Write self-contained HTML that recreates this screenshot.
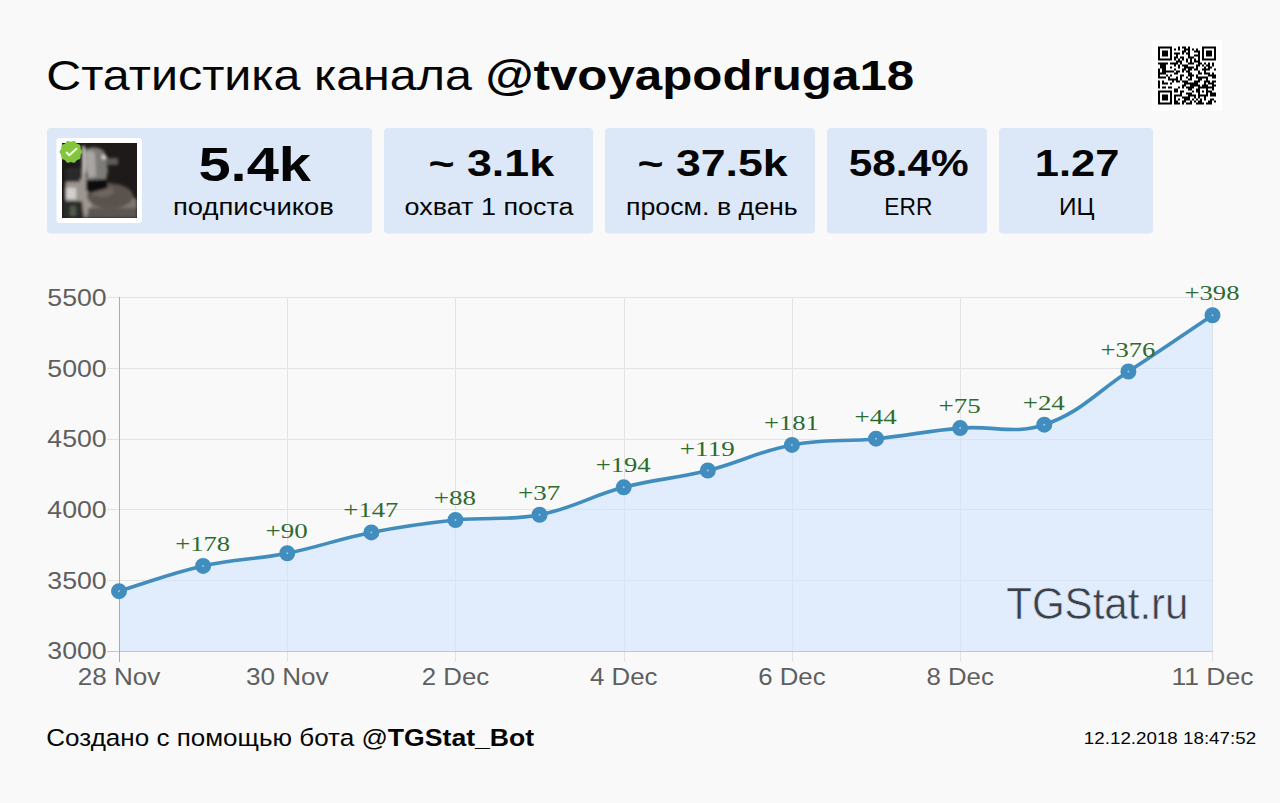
<!DOCTYPE html>
<html><head><meta charset="utf-8"><style>html,body{margin:0;padding:0;background:#f9f9f9;width:1280px;height:803px;overflow:hidden}svg{display:block}</style></head>
<body><svg width="1280" height="803" viewBox="0 0 1280 803">
<rect x="0" y="0" width="1280" height="803" fill="#f9f9f9"/>
<rect x="47" y="128" width="325" height="105.5" rx="4" fill="#dce8f7"/>
<rect x="384" y="128" width="209" height="105.5" rx="4" fill="#dce8f7"/>
<rect x="605" y="128" width="210" height="105.5" rx="4" fill="#dce8f7"/>
<rect x="827" y="128" width="160" height="105.5" rx="4" fill="#dce8f7"/>
<rect x="999" y="128" width="154" height="105.5" rx="4" fill="#dce8f7"/>
<text x="46.29" y="90.20" font-family="'Liberation Sans', sans-serif" font-size="41.921" fill="#050505" text-anchor="start"><tspan id="title_0" font-weight="400" textLength="439.13" lengthAdjust="spacingAndGlyphs">Статистика канала </tspan><tspan id="title_1" font-weight="700" textLength="428.82" lengthAdjust="spacingAndGlyphs">@tvoyapodruga18</tspan></text>

<text x="198.44" y="181.00" font-family="'Liberation Sans', sans-serif" font-size="47.542" fill="#050505" text-anchor="start"><tspan id="v1_0" font-weight="700" textLength="112.56" lengthAdjust="spacingAndGlyphs">5.4k</tspan></text>

<text x="172.96" y="215.30" font-family="'Liberation Sans', sans-serif" font-size="24.036" fill="#050505" text-anchor="start"><tspan id="l1_0" font-weight="400" textLength="160.92" lengthAdjust="spacingAndGlyphs">подписчиков</tspan></text>

<text x="428.48" y="176.00" font-family="'Liberation Sans', sans-serif" font-size="37.277" fill="#050505" text-anchor="start"><tspan id="v2_0" font-weight="700" textLength="125.58" lengthAdjust="spacingAndGlyphs">~ 3.1k</tspan></text>

<text x="404.51" y="215.30" font-family="'Liberation Sans', sans-serif" font-size="24.027" fill="#050505" text-anchor="start"><tspan id="l2_0" font-weight="400" textLength="168.99" lengthAdjust="spacingAndGlyphs">охват 1 поста</tspan></text>

<text x="637.46" y="176.00" font-family="'Liberation Sans', sans-serif" font-size="36.550" fill="#050505" text-anchor="start"><tspan id="v3_0" font-weight="700" textLength="150.20" lengthAdjust="spacingAndGlyphs">~ 37.5k</tspan></text>

<text x="625.97" y="215.30" font-family="'Liberation Sans', sans-serif" font-size="24.157" fill="#050505" text-anchor="start"><tspan id="l3_0" font-weight="400" textLength="171.82" lengthAdjust="spacingAndGlyphs">просм. в день</tspan></text>

<text x="848.71" y="176.20" font-family="'Liberation Sans', sans-serif" font-size="36.443" fill="#050505" text-anchor="start"><tspan id="v4_0" font-weight="700" textLength="120.06" lengthAdjust="spacingAndGlyphs">58.4%</tspan></text>

<text x="884.33" y="215.30" font-family="'Liberation Sans', sans-serif" font-size="24.542" fill="#050505" text-anchor="start"><tspan id="l4_0" font-weight="400" textLength="48.03" lengthAdjust="spacingAndGlyphs">ERR</tspan></text>

<text x="1034.73" y="176.00" font-family="'Liberation Sans', sans-serif" font-size="36.462" fill="#050505" text-anchor="start"><tspan id="v5_0" font-weight="700" textLength="84.60" lengthAdjust="spacingAndGlyphs">1.27</tspan></text>

<text x="1058.91" y="215.30" font-family="'Liberation Sans', sans-serif" font-size="24.701" fill="#050505" text-anchor="start"><tspan id="l5_0" font-weight="400" textLength="35.49" lengthAdjust="spacingAndGlyphs">ИЦ</tspan></text>

<text x="46.32" y="745.70" font-family="'Liberation Sans', sans-serif" font-size="23.766" fill="#050505" text-anchor="start"><tspan id="footer_0" font-weight="400" textLength="341.55" lengthAdjust="spacingAndGlyphs">Создано с помощью бота @</tspan><tspan id="footer_1" font-weight="700" textLength="146.33" lengthAdjust="spacingAndGlyphs">TGStat_Bot</tspan></text>

<text x="1083.89" y="743.75" font-family="'Liberation Sans', sans-serif" font-size="17.141" fill="#050505" text-anchor="start"><tspan id="ts_0" font-weight="400" textLength="172.21" lengthAdjust="spacingAndGlyphs">12.12.2018 18:47:52</tspan></text>

<rect x="56.5" y="138" width="85.5" height="85" rx="3" fill="#fff"/>
<defs><clipPath id="av"><rect x="62" y="143" width="75" height="75"/></clipPath>
<filter id="bl" x="-20%" y="-20%" width="140%" height="140%"><feGaussianBlur stdDeviation="1.6"/></filter>
<filter id="bl2" x="-20%" y="-20%" width="140%" height="140%"><feGaussianBlur stdDeviation="0.8"/></filter></defs>
<g clip-path="url(#av)">
<rect x="62" y="143" width="75" height="75" fill="#1e1a19"/>
<g filter="url(#bl)">
<path d="M62,183 L86,177 L120,186 L137,200 L137,218 L62,218 Z" fill="#7d7671"/>
<path d="M66,182 L86,178 L92,206 L84,218 L66,218 Z" fill="#9d9690"/>
<rect x="64" y="188" width="12" height="11" fill="#d2d0ce"/>
<path d="M84,150 Q94,144 104,151 L108,170 L106,180 L88,181 L84,168 Z" fill="#7e7b78"/>
<path d="M86,152 Q91,149 95,153 L96,176 L89,178 L86,166 Z" fill="#a9a6a3"/>
<rect x="82" y="146" width="3" height="32" fill="#c8c6c4"/>
<ellipse cx="104" cy="157" rx="2.5" ry="2.5" fill="#d9d6d3"/>
<path d="M106,158 L118,158 L118,165 L106,165 Z" fill="#5f5b57"/>
<ellipse cx="110" cy="196" rx="23" ry="12.5" fill="#5a524d"/>
<ellipse cx="102" cy="191" rx="12" ry="6" fill="#6e655f"/>
<path d="M86,180 L107,179 L108,188 L90,193 L86,190 Z" fill="#100e0f"/>
<rect x="62" y="165" width="4" height="53" fill="#141213"/>
<rect x="66" y="168" width="14" height="14" fill="#2a292a"/>
<path d="M63,201 L82,201 L84,218 L63,218 Z" fill="#2b2927"/>
<rect x="70" y="206" width="6" height="10" fill="#505a4c"/>
<path d="M88,208 L137,208 L137,218 L88,218 Z" fill="#5c5652"/>
</g>
</g>
</g>
<g transform="translate(70.9,151.9)">
<path d="M11.40,0.00 L11.19,0.88 L10.67,1.69 L10.09,2.42 L9.70,3.15 L9.59,3.97 L9.62,4.90 L9.57,5.86 L9.22,6.70 L8.53,7.29 L7.64,7.64 L6.74,7.89 L6.00,8.25 L5.42,8.85 L4.90,9.62 L4.30,10.37 L3.52,10.84 L2.62,10.91 L1.69,10.67 L0.81,10.34 L0.00,10.20 L-0.81,10.34 L-1.69,10.67 L-2.62,10.91 L-3.52,10.84 L-4.30,10.37 L-4.90,9.62 L-5.42,8.85 L-6.00,8.25 L-6.74,7.89 L-7.64,7.64 L-8.53,7.29 L-9.22,6.70 L-9.57,5.86 L-9.62,4.90 L-9.59,3.97 L-9.70,3.15 L-10.09,2.42 L-10.67,1.69 L-11.19,0.88 L-11.40,0.00 L-11.19,-0.88 L-10.67,-1.69 L-10.09,-2.42 L-9.70,-3.15 L-9.59,-3.97 L-9.62,-4.90 L-9.57,-5.86 L-9.22,-6.70 L-8.53,-7.29 L-7.64,-7.64 L-6.74,-7.89 L-6.00,-8.25 L-5.42,-8.85 L-4.90,-9.62 L-4.30,-10.37 L-3.52,-10.84 L-2.62,-10.91 L-1.69,-10.67 L-0.81,-10.34 L-0.00,-10.20 L0.81,-10.34 L1.69,-10.67 L2.62,-10.91 L3.52,-10.84 L4.30,-10.37 L4.90,-9.62 L5.42,-8.85 L6.00,-8.25 L6.74,-7.89 L7.64,-7.64 L8.53,-7.29 L9.22,-6.70 L9.57,-5.86 L9.62,-4.90 L9.59,-3.97 L9.70,-3.15 L10.09,-2.42 L10.67,-1.69 L11.19,-0.88 Z" fill="#84c540"/>
<path d="M-4.2,0.6 L-1.6,3.4 L5.6,-3.2" fill="none" stroke="#f2fbe8" stroke-width="2" stroke-linecap="round" stroke-linejoin="round"/>
</g>
<rect x="1152" y="40" width="70" height="71" fill="#fefefe"/>
<path d="M1158,46.4h14v2h-14zM1178,46.4h2v2h-2zM1182,46.4h4v2h-4zM1188,46.4h2v2h-2zM1202,46.4h14v2h-14zM1158,48.4h2v2h-2zM1170,48.4h2v2h-2zM1174,48.4h2v2h-2zM1178,48.4h2v2h-2zM1184,48.4h6v2h-6zM1192,48.4h2v2h-2zM1196,48.4h2v2h-2zM1202,48.4h2v2h-2zM1214,48.4h2v2h-2zM1158,50.4h2v2h-2zM1162,50.4h6v2h-6zM1170,50.4h2v2h-2zM1182,50.4h4v2h-4zM1188,50.4h2v2h-2zM1194,50.4h6v2h-6zM1202,50.4h2v2h-2zM1206,50.4h6v2h-6zM1214,50.4h2v2h-2zM1158,52.4h2v2h-2zM1162,52.4h6v2h-6zM1170,52.4h2v2h-2zM1174,52.4h6v2h-6zM1182,52.4h2v2h-2zM1186,52.4h4v2h-4zM1198,52.4h2v2h-2zM1202,52.4h2v2h-2zM1206,52.4h6v2h-6zM1214,52.4h2v2h-2zM1158,54.4h2v2h-2zM1162,54.4h6v2h-6zM1170,54.4h2v2h-2zM1176,54.4h2v2h-2zM1188,54.4h2v2h-2zM1194,54.4h6v2h-6zM1202,54.4h2v2h-2zM1206,54.4h6v2h-6zM1214,54.4h2v2h-2zM1158,56.4h2v2h-2zM1170,56.4h2v2h-2zM1174,56.4h4v2h-4zM1180,56.4h4v2h-4zM1188,56.4h6v2h-6zM1198,56.4h2v2h-2zM1202,56.4h2v2h-2zM1214,56.4h2v2h-2zM1158,58.4h14v2h-14zM1174,58.4h2v2h-2zM1178,58.4h2v2h-2zM1182,58.4h2v2h-2zM1186,58.4h2v2h-2zM1190,58.4h2v2h-2zM1194,58.4h2v2h-2zM1198,58.4h2v2h-2zM1202,58.4h14v2h-14zM1176,60.4h6v2h-6zM1186,60.4h2v2h-2zM1190,60.4h2v2h-2zM1194,60.4h6v2h-6zM1158,62.4h10v2h-10zM1170,62.4h8v2h-8zM1180,62.4h2v2h-2zM1188,62.4h6v2h-6zM1198,62.4h4v2h-4zM1204,62.4h2v2h-2zM1208,62.4h2v2h-2zM1212,62.4h2v2h-2zM1160,64.4h6v2h-6zM1174,64.4h2v2h-2zM1178,64.4h2v2h-2zM1182,64.4h6v2h-6zM1196,64.4h4v2h-4zM1202,64.4h2v2h-2zM1206,64.4h4v2h-4zM1212,64.4h2v2h-2zM1160,66.4h6v2h-6zM1170,66.4h2v2h-2zM1178,66.4h2v2h-2zM1184,66.4h10v2h-10zM1196,66.4h2v2h-2zM1204,66.4h2v2h-2zM1208,66.4h4v2h-4zM1158,68.4h2v2h-2zM1162,68.4h4v2h-4zM1174,68.4h2v2h-2zM1182,68.4h4v2h-4zM1188,68.4h4v2h-4zM1194,68.4h4v2h-4zM1202,68.4h8v2h-8zM1214,68.4h2v2h-2zM1158,70.4h2v2h-2zM1162,70.4h12v2h-12zM1176,70.4h4v2h-4zM1182,70.4h2v2h-2zM1186,70.4h4v2h-4zM1198,70.4h2v2h-2zM1204,70.4h2v2h-2zM1158,72.4h8v2h-8zM1174,72.4h4v2h-4zM1188,72.4h4v2h-4zM1198,72.4h4v2h-4zM1204,72.4h6v2h-6zM1212,72.4h2v2h-2zM1158,74.4h2v2h-2zM1166,74.4h2v2h-2zM1170,74.4h2v2h-2zM1180,74.4h4v2h-4zM1188,74.4h6v2h-6zM1196,74.4h2v2h-2zM1208,74.4h8v2h-8zM1158,76.4h8v2h-8zM1168,76.4h2v2h-2zM1176,76.4h2v2h-2zM1180,76.4h2v2h-2zM1186,76.4h2v2h-2zM1190,76.4h2v2h-2zM1196,76.4h12v2h-12zM1212,76.4h4v2h-4zM1168,78.4h10v2h-10zM1180,78.4h2v2h-2zM1188,78.4h4v2h-4zM1198,78.4h4v2h-4zM1206,78.4h2v2h-2zM1158,80.4h2v2h-2zM1162,80.4h2v2h-2zM1172,80.4h2v2h-2zM1176,80.4h4v2h-4zM1182,80.4h6v2h-6zM1194,80.4h6v2h-6zM1204,80.4h6v2h-6zM1212,80.4h4v2h-4zM1158,82.4h2v2h-2zM1162,82.4h6v2h-6zM1170,82.4h2v2h-2zM1184,82.4h14v2h-14zM1204,82.4h2v2h-2zM1208,82.4h6v2h-6zM1158,84.4h2v2h-2zM1182,84.4h4v2h-4zM1190,84.4h10v2h-10zM1202,84.4h6v2h-6zM1212,84.4h4v2h-4zM1158,86.4h2v2h-2zM1162,86.4h4v2h-4zM1168,86.4h4v2h-4zM1178,86.4h2v2h-2zM1182,86.4h2v2h-2zM1186,86.4h8v2h-8zM1198,86.4h16v2h-16zM1174,88.4h4v2h-4zM1188,88.4h4v2h-4zM1196,88.4h4v2h-4zM1206,88.4h2v2h-2zM1212,88.4h2v2h-2zM1158,90.4h14v2h-14zM1174,90.4h4v2h-4zM1180,90.4h4v2h-4zM1192,90.4h2v2h-2zM1196,90.4h4v2h-4zM1202,90.4h2v2h-2zM1206,90.4h6v2h-6zM1158,92.4h2v2h-2zM1170,92.4h2v2h-2zM1180,92.4h2v2h-2zM1186,92.4h6v2h-6zM1198,92.4h2v2h-2zM1206,92.4h2v2h-2zM1210,92.4h6v2h-6zM1158,94.4h2v2h-2zM1162,94.4h6v2h-6zM1170,94.4h2v2h-2zM1174,94.4h8v2h-8zM1188,94.4h8v2h-8zM1198,94.4h10v2h-10zM1210,94.4h6v2h-6zM1158,96.4h2v2h-2zM1162,96.4h6v2h-6zM1170,96.4h2v2h-2zM1174,96.4h2v2h-2zM1182,96.4h8v2h-8zM1194,96.4h2v2h-2zM1198,96.4h2v2h-2zM1204,96.4h2v2h-2zM1158,98.4h2v2h-2zM1162,98.4h6v2h-6zM1170,98.4h2v2h-2zM1174,98.4h2v2h-2zM1178,98.4h2v2h-2zM1184,98.4h6v2h-6zM1192,98.4h2v2h-2zM1196,98.4h2v2h-2zM1200,98.4h2v2h-2zM1204,98.4h2v2h-2zM1210,98.4h4v2h-4zM1158,100.4h2v2h-2zM1170,100.4h2v2h-2zM1174,100.4h4v2h-4zM1182,100.4h4v2h-4zM1190,100.4h2v2h-2zM1194,100.4h2v2h-2zM1198,100.4h4v2h-4zM1208,100.4h4v2h-4zM1214,100.4h2v2h-2zM1158,102.4h14v2h-14zM1174,102.4h6v2h-6zM1182,102.4h2v2h-2zM1186,102.4h6v2h-6zM1196,102.4h8v2h-8zM1206,102.4h6v2h-6z" fill="#000"/>
<line x1="107" y1="580.50" x2="1213" y2="580.50" stroke="#e3e3e3" stroke-width="1"/>
<line x1="107" y1="509.50" x2="1213" y2="509.50" stroke="#e3e3e3" stroke-width="1"/>
<line x1="107" y1="439.50" x2="1213" y2="439.50" stroke="#e3e3e3" stroke-width="1"/>
<line x1="107" y1="368.50" x2="1213" y2="368.50" stroke="#e3e3e3" stroke-width="1"/>
<line x1="107" y1="297.50" x2="1213" y2="297.50" stroke="#e3e3e3" stroke-width="1"/>
<line x1="287.50" y1="297" x2="287.50" y2="662" stroke="#e3e3e3" stroke-width="1"/>
<line x1="455.50" y1="297" x2="455.50" y2="662" stroke="#e3e3e3" stroke-width="1"/>
<line x1="624.50" y1="297" x2="624.50" y2="662" stroke="#e3e3e3" stroke-width="1"/>
<line x1="792.50" y1="297" x2="792.50" y2="662" stroke="#e3e3e3" stroke-width="1"/>
<line x1="960.50" y1="297" x2="960.50" y2="662" stroke="#e3e3e3" stroke-width="1"/>
<line x1="1212.50" y1="297" x2="1212.50" y2="662" stroke="#e3e3e3" stroke-width="1"/>
<path d="M119.00,591.13 C152.65,581.06 168.94,573.66 203.12,565.96 C236.23,558.50 253.89,559.87 287.23,553.23 C321.19,546.47 337.38,539.16 371.35,532.45 C404.68,525.86 421.67,523.56 455.46,520.00 C488.96,516.49 506.75,521.15 539.58,514.77 C574.04,508.08 589.53,496.33 623.69,487.34 C656.82,478.63 674.58,478.89 707.81,470.51 C741.87,461.93 757.58,451.42 791.92,444.92 C824.87,438.69 842.48,442.06 876.04,438.70 C909.77,435.33 926.39,430.90 960.15,428.10 C993.68,425.31 1013.43,435.07 1044.27,424.70 C1080.72,412.45 1095.02,393.24 1128.38,371.53 C1162.32,349.46 1178.85,337.77 1212.50,315.26 L1212.50,651.00 L119.00,651.00 Z" fill="rgba(205,225,255,0.55)"/>
<line x1="107" y1="651.5" x2="1213" y2="651.5" stroke="#c3c6ca" stroke-width="1"/>
<line x1="119.5" y1="297" x2="119.5" y2="662" stroke="#a9abad" stroke-width="1"/>
<path d="M119.00,591.13 C152.65,581.06 168.94,573.66 203.12,565.96 C236.23,558.50 253.89,559.87 287.23,553.23 C321.19,546.47 337.38,539.16 371.35,532.45 C404.68,525.86 421.67,523.56 455.46,520.00 C488.96,516.49 506.75,521.15 539.58,514.77 C574.04,508.08 589.53,496.33 623.69,487.34 C656.82,478.63 674.58,478.89 707.81,470.51 C741.87,461.93 757.58,451.42 791.92,444.92 C824.87,438.69 842.48,442.06 876.04,438.70 C909.77,435.33 926.39,430.90 960.15,428.10 C993.68,425.31 1013.43,435.07 1044.27,424.70 C1080.72,412.45 1095.02,393.24 1128.38,371.53 C1162.32,349.46 1178.85,337.77 1212.50,315.26" fill="none" stroke="#408dbe" stroke-width="3.6"/>
<circle cx="119.00" cy="591.13" r="4.5" fill="#9cc8f0" stroke="#408dbe" stroke-width="7"/>
<circle cx="203.12" cy="565.96" r="4.5" fill="#9cc8f0" stroke="#408dbe" stroke-width="7"/>
<circle cx="287.23" cy="553.23" r="4.5" fill="#9cc8f0" stroke="#408dbe" stroke-width="7"/>
<circle cx="371.35" cy="532.45" r="4.5" fill="#9cc8f0" stroke="#408dbe" stroke-width="7"/>
<circle cx="455.46" cy="520.00" r="4.5" fill="#9cc8f0" stroke="#408dbe" stroke-width="7"/>
<circle cx="539.58" cy="514.77" r="4.5" fill="#9cc8f0" stroke="#408dbe" stroke-width="7"/>
<circle cx="623.69" cy="487.34" r="4.5" fill="#9cc8f0" stroke="#408dbe" stroke-width="7"/>
<circle cx="707.81" cy="470.51" r="4.5" fill="#9cc8f0" stroke="#408dbe" stroke-width="7"/>
<circle cx="791.92" cy="444.92" r="4.5" fill="#9cc8f0" stroke="#408dbe" stroke-width="7"/>
<circle cx="876.04" cy="438.70" r="4.5" fill="#9cc8f0" stroke="#408dbe" stroke-width="7"/>
<circle cx="960.15" cy="428.10" r="4.5" fill="#9cc8f0" stroke="#408dbe" stroke-width="7"/>
<circle cx="1044.27" cy="424.70" r="4.5" fill="#9cc8f0" stroke="#408dbe" stroke-width="7"/>
<circle cx="1128.38" cy="371.53" r="4.5" fill="#9cc8f0" stroke="#408dbe" stroke-width="7"/>
<circle cx="1212.50" cy="315.26" r="4.5" fill="#9cc8f0" stroke="#408dbe" stroke-width="7"/>
<text x="106.70" y="659.30" font-family="'Liberation Sans', sans-serif" font-size="23.563" fill="#5f5f5f" text-anchor="end"><tspan id="y3000_0" font-weight="400" textLength="59.38" lengthAdjust="spacingAndGlyphs">3000</tspan></text>

<text x="106.70" y="588.60" font-family="'Liberation Sans', sans-serif" font-size="23.563" fill="#5f5f5f" text-anchor="end"><tspan id="y3500_0" font-weight="400" textLength="59.38" lengthAdjust="spacingAndGlyphs">3500</tspan></text>

<text x="106.70" y="517.90" font-family="'Liberation Sans', sans-serif" font-size="23.563" fill="#5f5f5f" text-anchor="end"><tspan id="y4000_0" font-weight="400" textLength="59.38" lengthAdjust="spacingAndGlyphs">4000</tspan></text>

<text x="106.70" y="447.20" font-family="'Liberation Sans', sans-serif" font-size="23.563" fill="#5f5f5f" text-anchor="end"><tspan id="y4500_0" font-weight="400" textLength="59.38" lengthAdjust="spacingAndGlyphs">4500</tspan></text>

<text x="106.70" y="376.50" font-family="'Liberation Sans', sans-serif" font-size="23.563" fill="#5f5f5f" text-anchor="end"><tspan id="y5000_0" font-weight="400" textLength="59.38" lengthAdjust="spacingAndGlyphs">5000</tspan></text>

<text x="106.70" y="305.80" font-family="'Liberation Sans', sans-serif" font-size="23.563" fill="#5f5f5f" text-anchor="end"><tspan id="y5500_0" font-weight="400" textLength="59.38" lengthAdjust="spacingAndGlyphs">5500</tspan></text>

<text x="119.00" y="684.50" font-family="'Liberation Sans', sans-serif" font-size="23.797" fill="#5f5f5f" text-anchor="middle"><tspan id="x0_0" font-weight="400" textLength="82.64" lengthAdjust="spacingAndGlyphs">28 Nov</tspan></text>

<text x="287.23" y="684.50" font-family="'Liberation Sans', sans-serif" font-size="23.797" fill="#5f5f5f" text-anchor="middle"><tspan id="x2_0" font-weight="400" textLength="82.64" lengthAdjust="spacingAndGlyphs">30 Nov</tspan></text>

<text x="455.46" y="684.50" font-family="'Liberation Sans', sans-serif" font-size="23.797" fill="#5f5f5f" text-anchor="middle"><tspan id="x4_0" font-weight="400" textLength="67.41" lengthAdjust="spacingAndGlyphs">2 Dec</tspan></text>

<text x="623.69" y="684.50" font-family="'Liberation Sans', sans-serif" font-size="23.797" fill="#5f5f5f" text-anchor="middle"><tspan id="x6_0" font-weight="400" textLength="67.41" lengthAdjust="spacingAndGlyphs">4 Dec</tspan></text>

<text x="791.92" y="684.50" font-family="'Liberation Sans', sans-serif" font-size="23.797" fill="#5f5f5f" text-anchor="middle"><tspan id="x8_0" font-weight="400" textLength="67.41" lengthAdjust="spacingAndGlyphs">6 Dec</tspan></text>

<text x="960.15" y="684.50" font-family="'Liberation Sans', sans-serif" font-size="23.797" fill="#5f5f5f" text-anchor="middle"><tspan id="x10_0" font-weight="400" textLength="67.41" lengthAdjust="spacingAndGlyphs">8 Dec</tspan></text>

<text x="1212.50" y="684.50" font-family="'Liberation Sans', sans-serif" font-size="23.797" fill="#5f5f5f" text-anchor="middle"><tspan id="x13_0" font-weight="400" textLength="82.25" lengthAdjust="spacingAndGlyphs">11 Dec</tspan></text>

<text x="202.62" y="550.96" font-family="'Liberation Serif', serif" font-size="21.600" fill="#2e6b2e" text-anchor="middle"><tspan id="d1_0" font-weight="400" textLength="54.94" lengthAdjust="spacingAndGlyphs">+178</tspan></text>

<text x="286.73" y="538.23" font-family="'Liberation Serif', serif" font-size="21.600" fill="#2e6b2e" text-anchor="middle"><tspan id="d2_0" font-weight="400" textLength="42.22" lengthAdjust="spacingAndGlyphs">+90</tspan></text>

<text x="370.85" y="517.45" font-family="'Liberation Serif', serif" font-size="21.600" fill="#2e6b2e" text-anchor="middle"><tspan id="d3_0" font-weight="400" textLength="54.94" lengthAdjust="spacingAndGlyphs">+147</tspan></text>

<text x="454.96" y="505.00" font-family="'Liberation Serif', serif" font-size="21.600" fill="#2e6b2e" text-anchor="middle"><tspan id="d4_0" font-weight="400" textLength="42.22" lengthAdjust="spacingAndGlyphs">+88</tspan></text>

<text x="539.08" y="499.77" font-family="'Liberation Serif', serif" font-size="21.600" fill="#2e6b2e" text-anchor="middle"><tspan id="d5_0" font-weight="400" textLength="42.22" lengthAdjust="spacingAndGlyphs">+37</tspan></text>

<text x="623.19" y="472.34" font-family="'Liberation Serif', serif" font-size="21.600" fill="#2e6b2e" text-anchor="middle"><tspan id="d6_0" font-weight="400" textLength="54.94" lengthAdjust="spacingAndGlyphs">+194</tspan></text>

<text x="707.31" y="455.51" font-family="'Liberation Serif', serif" font-size="21.600" fill="#2e6b2e" text-anchor="middle"><tspan id="d7_0" font-weight="400" textLength="54.94" lengthAdjust="spacingAndGlyphs">+119</tspan></text>

<text x="791.42" y="429.92" font-family="'Liberation Serif', serif" font-size="21.600" fill="#2e6b2e" text-anchor="middle"><tspan id="d8_0" font-weight="400" textLength="54.94" lengthAdjust="spacingAndGlyphs">+181</tspan></text>

<text x="875.54" y="423.70" font-family="'Liberation Serif', serif" font-size="21.600" fill="#2e6b2e" text-anchor="middle"><tspan id="d9_0" font-weight="400" textLength="42.22" lengthAdjust="spacingAndGlyphs">+44</tspan></text>

<text x="959.65" y="413.10" font-family="'Liberation Serif', serif" font-size="21.600" fill="#2e6b2e" text-anchor="middle"><tspan id="d10_0" font-weight="400" textLength="42.22" lengthAdjust="spacingAndGlyphs">+75</tspan></text>

<text x="1043.77" y="409.70" font-family="'Liberation Serif', serif" font-size="21.600" fill="#2e6b2e" text-anchor="middle"><tspan id="d11_0" font-weight="400" textLength="42.22" lengthAdjust="spacingAndGlyphs">+24</tspan></text>

<text x="1127.88" y="356.53" font-family="'Liberation Serif', serif" font-size="21.600" fill="#2e6b2e" text-anchor="middle"><tspan id="d12_0" font-weight="400" textLength="54.94" lengthAdjust="spacingAndGlyphs">+376</tspan></text>

<text x="1212.00" y="300.26" font-family="'Liberation Serif', serif" font-size="21.600" fill="#2e6b2e" text-anchor="middle"><tspan id="d13_0" font-weight="400" textLength="54.94" lengthAdjust="spacingAndGlyphs">+398</tspan></text>

<text x="1006.20" y="619.2" font-family="'Liberation Sans', sans-serif" font-size="43.60" fill="#3b404b" textLength="182.30" lengthAdjust="spacingAndGlyphs" stroke="#dde8f8" stroke-width="0.60">TGStat.ru</text>
</svg></body></html>
